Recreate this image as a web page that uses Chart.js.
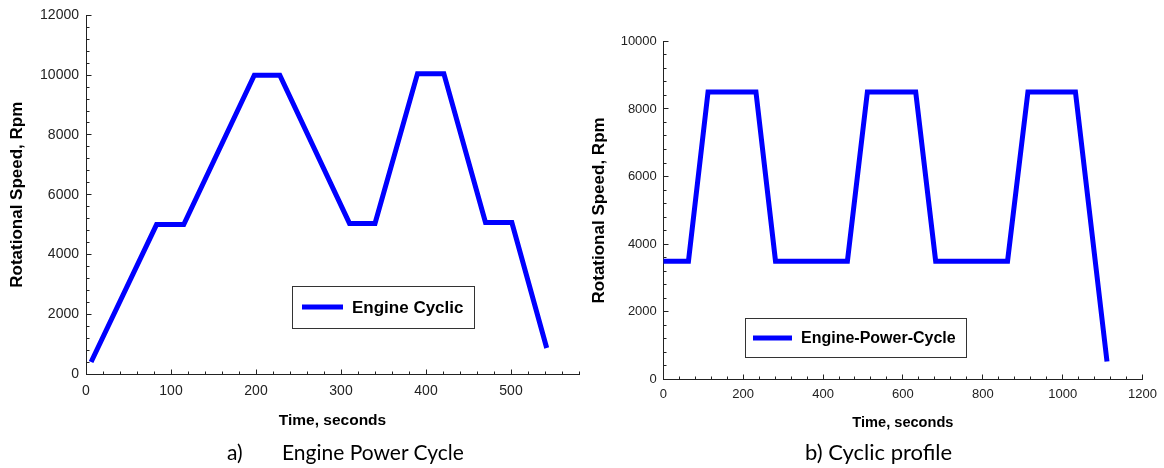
<!DOCTYPE html>
<html>
<head>
<meta charset="utf-8">
<script src="https://cdn.jsdelivr.net/npm/chart.js@4.4.1/dist/chart.umd.min.js"></script>
<style>
	body { margin: 0; width: 1164px; height: 468px; background: #fff; position: relative; overflow: hidden; }
	#chartA { position: absolute; left: 0; top: 0; }
	#chartB { position: absolute; left: 588px; top: 0; }
	.caption { position: absolute; top: 441px; font-family: Lato, "Open Sans", sans-serif; font-size: 21px; line-height: 21px; color: #000; white-space: pre; }
</style>
</head>
<body>
<canvas id="chartA" width="588" height="440"></canvas>
<canvas id="chartB" width="576" height="440"></canvas>
<div class="caption" style="left:227px">a)</div>
<div class="caption" style="left:282px">Engine Power Cycle</div>
<div class="caption" style="left:805px; font-size:22px">b) Cyclic profile</div>
<script>
// a) engine power cycle
const timeA = [6, 83, 115, 198, 228, 310, 340, 390, 421, 470, 501, 542];
const speedA = [400, 5000, 5000, 10000, 10000, 5040, 5040, 10050, 10050, 5070, 5070, 870];
// b) cyclic profile
const timeB = [0, 63, 112, 232, 281, 461, 511, 632, 682, 862, 913, 1032, 1111];
const speedB = [3500, 3500, 8500, 8500, 3500, 3500, 8500, 8500, 3500, 3500, 8500, 8500, 530];

const labelA = "Engine Cyclic";
const labelB = "Engine-Power-Cycle";
const yTitle = "Rotational Speed, Rpm";
const xTitle = "Time, seconds";
const FONT = "'Liberation Sans', Arial, sans-serif";

function toPoints(xs, ys) {
	return xs.map((x, i) => ({ x: x, y: ys[i] }));
}

// ticks pointing inside the plot + boxed legend
const axisExtras = {
	id: "axisExtras",
	afterDraw(chart, args, opts) {
		const ctx = chart.ctx;
		const area = chart.chartArea;
		const xs = chart.scales.x;
		const ys = chart.scales.y;
		const bottom = Math.round(area.bottom - 0.5) + 0.5;
		const left = Math.round(area.left - 0.5) + 0.5;

		ctx.save();
		ctx.strokeStyle = "#222";
		ctx.lineWidth = 1;
		ctx.beginPath();
		xs.ticks.forEach((t) => {
			const px = Math.round(xs.getPixelForValue(t.value) - 0.5) + 0.5;
			const len = t.value % opts.xMajor === 0 ? 5 : 3;
			ctx.moveTo(px, bottom);
			ctx.lineTo(px, bottom - len);
		});
		ys.ticks.forEach((t) => {
			const py = Math.round(ys.getPixelForValue(t.value) - 0.5) + 0.5;
			const len = t.value % opts.yMajor === 0 ? 5 : 3;
			ctx.moveTo(left, py);
			ctx.lineTo(left + len, py);
		});
		ctx.stroke();

		// legend
		const lg = opts.legend;
		const ds = chart.data.datasets[0];
		ctx.fillStyle = "#fff";
		ctx.fillRect(lg.x1, lg.y1, lg.x2 - lg.x1, lg.y2 - lg.y1);
		ctx.strokeStyle = "#333";
		ctx.strokeRect(lg.x1 + 0.5, lg.y1 + 0.5, lg.x2 - lg.x1, lg.y2 - lg.y1);
		ctx.strokeStyle = ds.borderColor;
		ctx.lineWidth = 5;
		ctx.beginPath();
		ctx.moveTo(lg.lineX1, lg.lineY);
		ctx.lineTo(lg.lineX2, lg.lineY);
		ctx.stroke();
		ctx.fillStyle = "#000";
		ctx.font = "bold " + lg.fontSize + "px " + FONT;
		ctx.textBaseline = "middle";
		ctx.fillText(ds.label, lg.textX, lg.lineY + 1);
		ctx.restore();
	},
};

function makeChart(id, xs, ys, label, cfg) {
	const ctx = document.getElementById(id).getContext("2d");
	return new Chart(ctx, {
		type: "line",
		data: {
			datasets: [
				{
					label: label,
					data: toPoints(xs, ys),
					borderColor: "#0000ff",
					borderWidth: 5,
					borderJoinStyle: "miter",
					pointRadius: 0,
					tension: 0,
					fill: false,
				},
			],
		},
		options: {
			responsive: false,
			animation: false,
			layout: { padding: cfg.padding },
			plugins: {
				legend: { display: false },
				tooltip: { enabled: false },
				axisExtras: {
					xMajor: cfg.xMajor,
					yMajor: cfg.yMajor,
					legend: cfg.legend,
				},
			},
			scales: {
				x: {
					type: "linear",
					min: 0,
					max: cfg.xMax,
					ticks: {
						stepSize: cfg.xStep,
						autoSkip: false,
						maxRotation: 0,
						padding: cfg.xTickPad,
						color: "#222",
						font: { family: FONT, size: cfg.tickSize },
						callback: (v) => (v % cfg.xMajor === 0 ? String(v) : ""),
					},
					grid: { display: false, drawTicks: false },
					border: { display: true, color: "#222", width: 1 },
					title: {
						display: true,
						text: xTitle,
						color: "#000",
						padding: 0,
						font: { family: FONT, size: cfg.xTitleSize, weight: "bold" },
					},
					afterFit: (s) => {
						s.height = cfg.xHeight;
					},
				},
				y: {
					min: 0,
					max: cfg.yMax,
					ticks: {
						stepSize: 400,
						autoSkip: false,
						padding: cfg.yTickPad,
						color: "#222",
						font: { family: FONT, size: cfg.tickSize },
						callback: (v) => (v % cfg.yMajor === 0 ? String(v) : ""),
					},
					grid: { display: false, drawTicks: false },
					border: { display: true, color: "#222", width: 1 },
					title: {
						display: true,
						text: yTitle,
						color: "#000",
						padding: { top: cfg.yTitlePad, bottom: 0 },
						font: { family: FONT, size: 17, weight: "bold" },
					},
					afterFit: (s) => {
						s.width = cfg.yWidth;
					},
				},
			},
		},
		plugins: [axisExtras],
	});
}

makeChart("chartA", timeA, speedA, labelA, {
	padding: { left: 0, top: 14, right: 4, bottom: 10 },
	xMax: 580, xStep: 20, xMajor: 100,
	yMax: 12000, yMajor: 2000,
	tickSize: 14, xTickPad: 9, yTickPad: 7,
	xTitleSize: 15.5, yTitlePad: 7,
	xHeight: 56, yWidth: 86,
	legend: { x1: 292, y1: 286, x2: 474, y2: 328, lineX1: 302, lineX2: 343, lineY: 307, textX: 352, fontSize: 17 },
});

makeChart("chartB", timeB, speedB, labelB, {
	padding: { left: 0, top: 41.3, right: 16.5, bottom: 8.5 },
	xMax: 1200, xStep: 40, xMajor: 200,
	yMax: 10000, yMajor: 2000,
	tickSize: 13, xTickPad: 7, yTickPad: 6.5,
	xTitleSize: 14.6, yTitlePad: 1,
	xHeight: 52, yWidth: 75.3,
	legend: { x1: 157, y1: 318, x2: 378, y2: 357, lineX1: 165, lineX2: 204, lineY: 338, textX: 213, fontSize: 16 },
});
</script>
</body>
</html>
